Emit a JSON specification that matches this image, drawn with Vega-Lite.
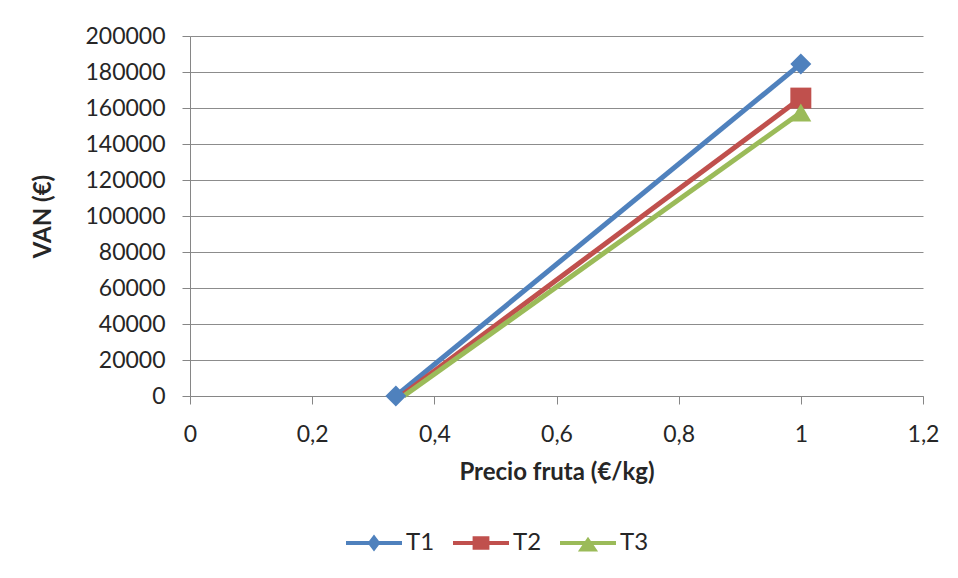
{
  "$schema": "https://vega.github.io/schema/vega-lite/v6.json",
  "width": 733,
  "height": 360,
  "autosize": {"type": "none"},
  "padding": {"left": 190, "top": 36, "right": 35, "bottom": 182},
  "background": "white",
  "config": {
    "font": "Lato",
    "view": {"stroke": null},
    "axis": {
      "labelFont": "Lato",
      "labelFontSize": 23,
      "labelColor": "#262626",
      "titleFont": "Lato",
      "titleFontWeight": "bold",
      "titleFontSize": 24,
      "titleColor": "#262626",
      "domainColor": "#868686",
      "tickColor": "#868686",
      "gridColor": "#8c8c8c",
      "tickSize": 8
    },
    "legend": {
      "labelFont": "Lato",
      "labelFontSize": 24,
      "labelColor": "#262626"
    }
  },
  "data": {
    "values": [
      {"series": "T1", "precio": 0.337, "van": 0},
      {"series": "T1", "precio": 1, "van": 184500},
      {"series": "T2", "precio": 0.345, "van": 0},
      {"series": "T2", "precio": 1, "van": 165500},
      {"series": "T3", "precio": 0.35, "van": 0},
      {"series": "T3", "precio": 1, "van": 157500}
    ]
  },
  "encoding": {
    "x": {
      "field": "precio",
      "type": "quantitative",
      "scale": {"domain": [0, 1.2], "nice": false, "zero": false},
      "axis": {
        "title": "Precio fruta (€/kg)",
        "values": [0, 0.2, 0.4, 0.6, 0.8, 1, 1.2],
        "labelExpr": "replace(format(datum.value, '.1~f'), '.', ',')",
        "grid": false,
        "labelPadding": 19,
        "titlePadding": 14,
        "labelFlush": false
      }
    },
    "y": {
      "field": "van",
      "type": "quantitative",
      "scale": {"domain": [0, 200000], "nice": false},
      "axis": {
        "title": "VAN (€)",
        "values": [0, 20000, 40000, 60000, 80000, 100000, 120000, 140000, 160000, 180000, 200000],
        "format": "d",
        "grid": true,
        "labelPadding": 17,
        "titlePadding": 29
      }
    }
  },
  "layer": [
    {
      "mark": {"type": "line", "strokeWidth": 5},
      "encoding": {
        "color": {
          "field": "series",
          "type": "nominal",
          "scale": {"domain": ["T1", "T2", "T3"], "range": ["#4F81BD", "#C0504D", "#9BBB59"]},
          "legend": null
        }
      }
    },
    {
      "transform": [{"filter": "datum.van > 0 || datum.series == 'T1'"}],
      "mark": {"type": "point", "filled": true, "opacity": 1, "size": 440},
      "encoding": {
        "color": {
          "field": "series",
          "type": "nominal",
          "scale": {"domain": ["T1", "T2", "T3"], "range": ["#4F81BD", "#C0504D", "#9BBB59"]},
          "legend": null
        },
        "shape": {
          "field": "series",
          "type": "nominal",
          "scale": {"domain": ["T1", "T2", "T3"], "range": ["diamond", "square", "triangle-up"]},
          "legend": null
        }
      }
    },
    {
      "transform": [{"filter": "datum.van < 0"}],
      "mark": {"type": "point", "filled": true, "opacity": 1},
      "encoding": {
        "color": {
          "field": "series",
          "type": "nominal",
          "scale": {"domain": ["T1", "T2", "T3"], "range": ["#4F81BD", "#C0504D", "#9BBB59"]},
          "legend": {
            "title": null,
            "orient": "none",
            "direction": "horizontal",
            "legendX": 156,
            "legendY": 479,
            "symbolSize": 3136,
            "symbolStrokeWidth": 0,
            "labelOffset": 4,
            "columnPadding": 18
          }
        },
        "shape": {
          "field": "series",
          "type": "nominal",
          "scale": {
            "domain": ["T1", "T2", "T3"],
            "range": [
              "M-1,-0.07L1,-0.07L1,0.07L-1,0.07ZM0,-0.3L0.23,0L0,0.3L-0.23,0Z",
              "M-1,-0.07L1,-0.07L1,0.07L-1,0.07ZM-0.3,-0.24L0.3,-0.24L0.3,0.24L-0.3,0.24Z",
              "M-1,-0.07L1,-0.07L1,0.07L-1,0.07ZM0,-0.22L0.36,0.3L-0.36,0.3Z"
            ]
          },
          "legend": {
            "title": null,
            "orient": "none",
            "direction": "horizontal",
            "legendX": 156,
            "legendY": 479,
            "symbolSize": 3136,
            "symbolStrokeWidth": 0,
            "labelOffset": 4,
            "columnPadding": 18
          }
        }
      }
    }
  ],
  "resolve": {"scale": {"color": "independent", "shape": "independent"}}
}
